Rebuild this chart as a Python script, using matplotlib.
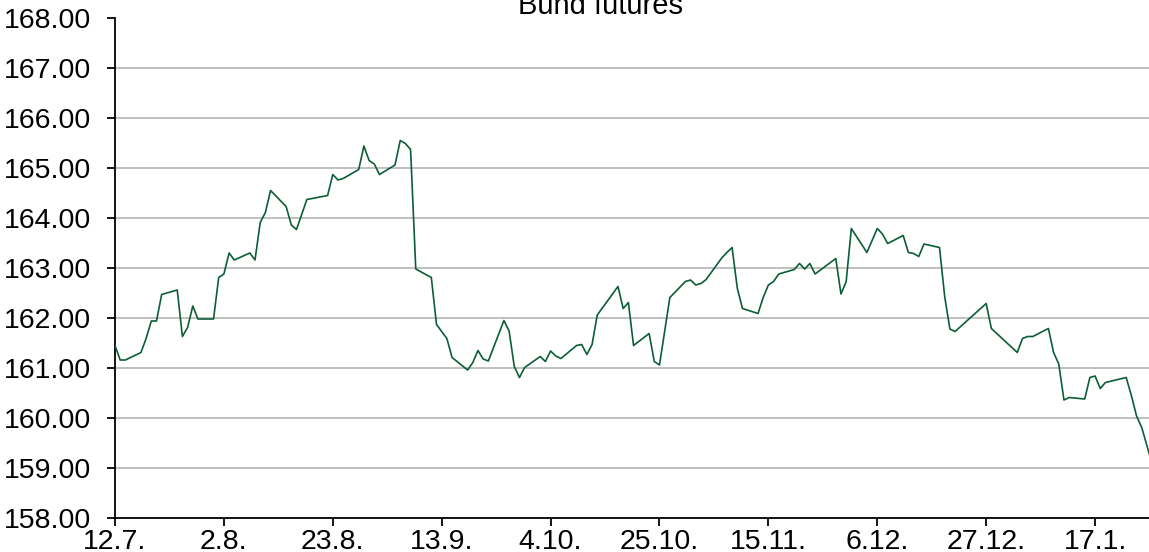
import matplotlib
matplotlib.use('Agg')
import matplotlib.pyplot as plt
import matplotlib.dates as mdates
import pandas as pd

# Bund futures, daily closes
dates = [
    '2017-07-12', '2017-07-13', '2017-07-14', '2017-07-17', '2017-07-18', '2017-07-19', '2017-07-20',
    '2017-07-21', '2017-07-24', '2017-07-25', '2017-07-26', '2017-07-27', '2017-07-28', '2017-07-31',
    '2017-08-01', '2017-08-02', '2017-08-03', '2017-08-04', '2017-08-07', '2017-08-08', '2017-08-09',
    '2017-08-10', '2017-08-11', '2017-08-14', '2017-08-15', '2017-08-16', '2017-08-18', '2017-08-22',
    '2017-08-23', '2017-08-24', '2017-08-25', '2017-08-28', '2017-08-29', '2017-08-30', '2017-08-31',
    '2017-09-01', '2017-09-04', '2017-09-05', '2017-09-06', '2017-09-07', '2017-09-08', '2017-09-11',
    '2017-09-12', '2017-09-14', '2017-09-15', '2017-09-18', '2017-09-19', '2017-09-20', '2017-09-21',
    '2017-09-22', '2017-09-25', '2017-09-26', '2017-09-27', '2017-09-28', '2017-09-29', '2017-10-02',
    '2017-10-03', '2017-10-04', '2017-10-05', '2017-10-06', '2017-10-09', '2017-10-10', '2017-10-11',
    '2017-10-12', '2017-10-13', '2017-10-17', '2017-10-18', '2017-10-19', '2017-10-20', '2017-10-23',
    '2017-10-24', '2017-10-25', '2017-10-26', '2017-10-27', '2017-10-30', '2017-10-31', '2017-11-01',
    '2017-11-02', '2017-11-03', '2017-11-06', '2017-11-07', '2017-11-08', '2017-11-09', '2017-11-10',
    '2017-11-13', '2017-11-14', '2017-11-15', '2017-11-16', '2017-11-17', '2017-11-20', '2017-11-21',
    '2017-11-22', '2017-11-23', '2017-11-24', '2017-11-28', '2017-11-29', '2017-11-30', '2017-12-01',
    '2017-12-04', '2017-12-06', '2017-12-07', '2017-12-08', '2017-12-11', '2017-12-12', '2017-12-13',
    '2017-12-14', '2017-12-15', '2017-12-18', '2017-12-19', '2017-12-20', '2017-12-21', '2017-12-27',
    '2017-12-28', '2018-01-02', '2018-01-03', '2018-01-04', '2018-01-05', '2018-01-08', '2018-01-09',
    '2018-01-10', '2018-01-11', '2018-01-12', '2018-01-15', '2018-01-16', '2018-01-17', '2018-01-18',
    '2018-01-19', '2018-01-23', '2018-01-24', '2018-01-25', '2018-01-26', '2018-01-29',
]
prices = [
    161.45, 161.16, 161.16, 161.31, 161.59, 161.94, 161.94,
    162.47, 162.56, 161.63, 161.81, 162.24, 161.98, 161.98,
    162.81, 162.88, 163.30, 163.16, 163.30, 163.16, 163.91,
    164.11, 164.55, 164.23, 163.86, 163.77, 164.37, 164.45,
    164.87, 164.76, 164.79, 164.97, 165.44, 165.15, 165.08,
    164.87, 165.06, 165.55, 165.49, 165.37, 162.98, 162.81,
    161.87, 161.59, 161.21, 160.96, 161.11, 161.35, 161.18,
    161.14, 161.95, 161.74, 161.03, 160.81, 161.01, 161.23,
    161.13, 161.34, 161.24, 161.19, 161.45, 161.47, 161.27,
    161.47, 162.06, 162.63, 162.19, 162.31, 161.45, 161.69,
    161.13, 161.06, 161.73, 162.41, 162.73, 162.76, 162.66,
    162.69, 162.77, 163.20, 163.31, 163.41, 162.60, 162.19,
    162.09, 162.41, 162.66, 162.73, 162.88, 162.97, 163.09,
    162.98, 163.09, 162.88, 163.19, 162.48, 162.73, 163.79,
    163.31, 163.79, 163.68, 163.49, 163.65, 163.31, 163.29,
    163.23, 163.48, 163.41, 162.43, 161.78, 161.73, 162.29,
    161.79, 161.31, 161.59, 161.63, 161.63, 161.79, 161.31,
    161.08, 160.36, 160.41, 160.38, 160.81, 160.84, 160.59,
    160.71, 160.81, 160.45, 160.04, 159.81, 158.72,
]

tick_dates = ['2017-07-12', '2017-08-02', '2017-08-23', '2017-09-13', '2017-10-04',
              '2017-10-25', '2017-11-15', '2017-12-06', '2017-12-27', '2018-01-17']
tick_labels = ['12.7.', '2.8.', '23.8.', '13.9.', '4.10.', '25.10.', '15.11.', '6.12.', '27.12.', '17.1.']
y_ticks = list(range(158, 169))

plt.rcParams['font.family'] = ['Liberation Sans', 'DejaVu Sans']

fig = plt.figure(figsize=(11.49, 5.52), dpi=100)
ax = fig.add_axes([115 / 1149, 34 / 552, 1 - 115 / 1149, 500 / 552])

x = pd.to_datetime(dates)
ax.plot(x, prices, color='#0b5e36', lw=1.2, zorder=3)

x0 = mdates.date2num(pd.Timestamp('2017-07-12'))
ax.set_xlim(x0, x0 + 199.4)
ax.set_ylim(158, 168)

ax.set_xticks(pd.to_datetime(tick_dates))
ax.set_xticklabels(tick_labels)
ax.set_yticks(y_ticks)
ax.set_yticklabels([f'{v:.2f}' for v in y_ticks])

# horizontal grid, skip the top line
for v in y_ticks[1:-1]:
    ax.axhline(v, color='#c0c0c0', lw=1.4, zorder=1)

for side in ['top', 'right']:
    ax.spines[side].set_visible(False)
for side in ['left', 'bottom']:
    ax.spines[side].set_linewidth(1.3)
    ax.spines[side].set_color('black')

ax.tick_params(axis='y', direction='out', length=6, width=1.3, pad=11, labelsize=20.5)
ax.tick_params(axis='x', direction='out', length=6, width=1.3, pad=2, labelsize=20.5)

fig.text(600 / 1149, 1 - 14 / 552, 'Bund futures', ha='center', va='baseline', fontsize=21)

fig.savefig('out.png', dpi=100)
